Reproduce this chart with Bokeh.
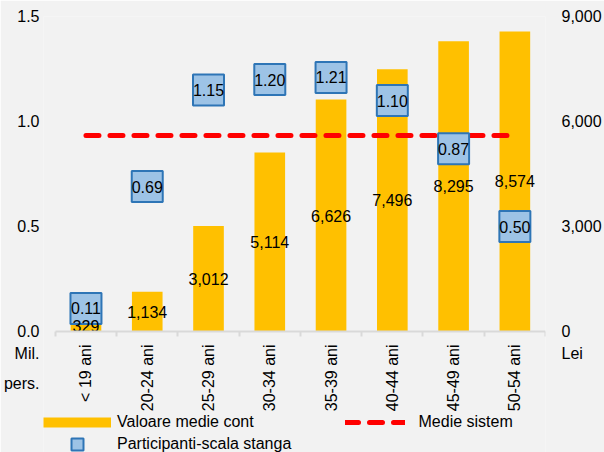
import math
from bokeh.plotting import figure
from bokeh.models import (Range1d, LinearAxis, FixedTicker, NumeralTickFormatter,
                          ColumnDataSource, Legend, LegendItem)
from bokeh.core.properties import value
from bokeh.embed import file_html
from bokeh.resources import INLINE

# ---- data ----
categories = ["< 19 ani", "20-24 ani", "25-29 ani", "30-34 ani",
              "35-39 ani", "40-44 ani", "45-49 ani", "50-54 ani"]
valoare_medie_cont = [329, 1134, 3012, 5114, 6626, 7496, 8295, 8574]
participanti = [0.11, 0.69, 1.15, 1.20, 1.21, 1.10, 0.87, 0.50]
medie_sistem = 5600
left_ticks = [0.0, 0.5, 1.0, 1.5]
right_ticks = [0, 3000, 6000, 9000]
left_unit_lines = ["Mil.", "pers."]
right_unit = "Lei"

FONT = "Liberation Sans"
FS = "16px"
ORANGE = "#FFC000"
RED = "#FF0000"
BLUE_FILL = "#9DC3E6"
BLUE_LINE = "#2E75B6"
GRAY = "#D9D9D9"
BG = "#F2F2F2"

# ---- geometry (pixels) ----
W, H = 604, 452
AXIS_LEFT, AXIS_RIGHT = 53, 550   # where the category axis starts / ends
FRAME_LEFT = 41                   # frame starts a bit earlier so the legend fits
TOP = 16
ZERO_Y = 331
left_max, right_max = 1.5, 9000
px_per_cat = (AXIS_RIGHT - AXIS_LEFT) / len(categories)
px_left = (ZERO_Y - TOP) / left_max
px_right = (ZERO_Y - TOP) / right_max
below = (H - ZERO_Y) / (ZERO_Y - TOP)

n = len(categories)
xpos = [i + 0.5 for i in range(n)]
src = ColumnDataSource(dict(
    x=xpos,
    cat=categories,
    val=valoare_medie_cont,
    half=[v / 2 for v in valoare_medie_cont],
    val_lbl=[f"{v:,}" for v in valoare_medie_cont],
    part=participanti,
    part_lbl=[f"{v:.2f}" for v in participanti],
))

x_start = -(AXIS_LEFT - FRAME_LEFT) / px_per_cat
p = figure(width=W, height=H, x_range=Range1d(x_start, n),
           y_range=Range1d(-left_max * below, left_max),
           output_backend="svg", toolbar_location=None,
           min_border_left=FRAME_LEFT, min_border_right=W - AXIS_RIGHT,
           min_border_top=TOP, min_border_bottom=0,
           background_fill_color=BG, border_fill_color=BG, outline_line_color=None)
p.grid.visible = False
p.extra_y_ranges = {"right": Range1d(-right_max * below, right_max)}

# bottom axis, drawn at the zero line
xa = p.xaxis[0]
xa.fixed_location = 0
xa.bounds = (0, n)
xa.ticker = FixedTicker(ticks=xpos, minor_ticks=list(range(n + 1)))
xa.major_label_overrides = {x: c for x, c in zip(xpos, categories)}
xa.major_tick_line_color = None
xa.major_tick_out = 0
xa.major_tick_in = 0
xa.minor_tick_line_color = GRAY
xa.minor_tick_line_width = 2
xa.minor_tick_out = 5
xa.minor_tick_in = 0
xa.axis_line_color = GRAY
xa.axis_line_width = 2
xa.major_label_orientation = math.pi / 2
xa.major_label_standoff = 8
xa.major_label_text_font = FONT
xa.major_label_text_font_size = FS
xa.major_label_text_color = "black"

# unit captions under the value axes, placed as extra ticks below zero
unit_px = [22, 52]
left_unit_ticks = [-d / px_left for d in unit_px]
right_unit_tick = -unit_px[0] / px_right

# left axis
ya = p.yaxis[0]
ya.ticker = FixedTicker(ticks=left_unit_ticks + left_ticks, minor_ticks=[])
ya.formatter = NumeralTickFormatter(format="0.0")
ya.major_label_overrides = {t: s for t, s in zip(left_unit_ticks, left_unit_lines)}
ya.axis_line_color = None
ya.major_tick_line_color = None
ya.minor_tick_line_color = None
ya.major_tick_out = 0
ya.major_tick_in = 0
ya.major_label_standoff = 4
ya.major_label_text_font = FONT
ya.major_label_text_font_size = FS
ya.major_label_text_color = "black"

# right axis
ra = LinearAxis(y_range_name="right",
                ticker=FixedTicker(ticks=[right_unit_tick] + right_ticks, minor_ticks=[]),
                formatter=NumeralTickFormatter(format="0,0"))
ra.major_label_overrides = {right_unit_tick: right_unit}
ra.axis_line_color = None
ra.major_tick_line_color = None
ra.minor_tick_line_color = None
ra.major_tick_out = 0
ra.major_tick_in = 0
ra.major_label_standoff = 16
ra.major_label_text_font = FONT
ra.major_label_text_font_size = FS
ra.major_label_text_color = "black"
p.add_layout(ra, "right")

# glyphs
bars = p.vbar(x="x", top="val", bottom=0, width=0.5, source=src, y_range_name="right",
              fill_color=ORANGE, line_color=None)
medie = p.line(x=[xpos[0], xpos[-1]], y=[medie_sistem, medie_sistem], y_range_name="right",
               line_color=RED, line_width=5, line_dash="13 11", line_cap="round")
sq = p.scatter(x="x", y="part", source=src, marker="square", size=31,
               fill_color=BLUE_FILL, line_color=BLUE_LINE, line_width=2)
p.text(x="x", y="part", text="part_lbl", source=src, text_align="center",
       text_baseline="middle", text_font=value(FONT), text_font_size=FS, text_color="black")
p.text(x="x", y="half", text="val_lbl", source=src, y_range_name="right", text_align="center",
       text_baseline="middle", text_font=value(FONT), text_font_size=FS, text_color="black")

# legend swatch for the bars (a one-point line draws nothing in the plot)
proxy = p.line(x=xpos[:1], y=[0], line_color=ORANGE, line_width=10)

common = dict(padding=0, margin=0, spacing=0, border_line_color=None,
              background_fill_alpha=0, label_text_font=FONT, label_text_font_size=FS,
              label_text_color="black")
legA = Legend(items=[LegendItem(label="Valoare medie cont", renderers=[proxy])],
              location=(0, 19), glyph_width=68, glyph_height=22, label_height=22,
              label_standoff=6, **common)
legB = Legend(items=[LegendItem(label="Medie sistem", renderers=[medie])],
              location=(301.5, 19), glyph_width=60, glyph_height=22, label_height=22,
              label_standoff=14, **common)
legC = Legend(items=[LegendItem(label="Participanti-scala stanga", renderers=[sq])],
              location=(0, -7), glyph_width=68, glyph_height=30, label_height=30,
              label_standoff=6, **common)
for lg in (legA, legB, legC):
    p.add_layout(lg)

open("out.html", "w").write(file_html(p, INLINE))
